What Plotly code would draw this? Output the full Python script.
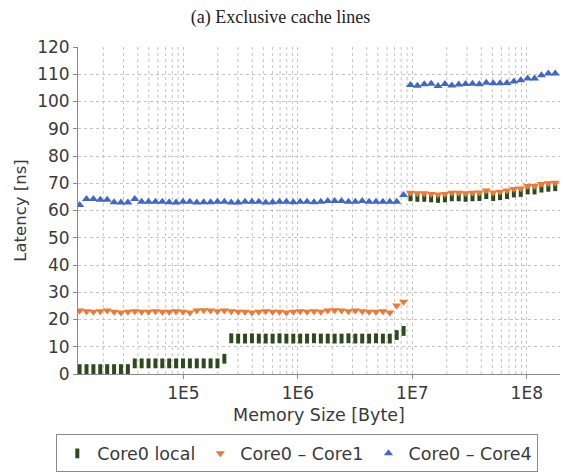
import plotly.graph_objects as go

# Memory sizes [Byte] (x positions of samples)
sizes = [
    12417, 14263, 16384, 18820, 21619, 24834, 28526, 32768, 37641, 43238,
    49667, 57052, 65536, 75281, 86475, 99334, 114105, 131072, 150562, 172951,
    198668, 228210, 262144, 301124, 345901, 397336, 456419, 524288, 602249, 691802,
    794672, 912838, 1048576, 1204497, 1383604, 1589344, 1825676, 2097152, 2408995, 2767209,
    3178688, 3651353, 4194304, 4817990, 5534417, 6357376, 7302706, 8388608, 9635980, 11068835,
    12714752, 14605411, 16777216, 19271960, 22137669, 25429504, 29210822, 33554432, 38543920, 44275339,
    50859008, 58421645, 67108864, 77087840, 88550677, 101718016, 116843289, 134217728, 154175680, 177101354,
]

core0_local = [
    1.8, 1.8, 1.8, 1.8, 1.8, 1.8, 1.8, 1.8, 3.9, 3.9,
    3.9, 3.9, 3.9, 3.9, 3.9, 3.9, 3.9, 3.9, 3.9, 3.9,
    3.9, 5.6, 13.1, 13.0, 13.0, 13.1, 13.0, 13.0, 13.0, 13.1,
    13.0, 13.0, 13.0, 13.0, 13.1, 13.0, 13.0, 13.0, 13.0, 13.1,
    13.0, 13.0, 13.0, 13.1, 13.0, 13.0, 14.3, 15.8, 65.2, 65.0,
    65.0, 64.8, 64.6, 64.8, 65.2, 65.2, 65.0, 65.2, 65.3, 66.0,
    65.3, 65.6, 66.0, 66.6, 66.8, 67.7, 67.7, 68.4, 68.7, 68.9,
]

core0_core1 = [
    23.3, 23.0, 22.8, 23.0, 23.3, 22.8, 22.6, 22.8, 23.0, 22.8,
    22.8, 23.0, 22.8, 22.8, 23.0, 22.8, 22.6, 23.3, 23.4, 23.3,
    23.0, 23.3, 23.0, 22.8, 22.8, 22.6, 22.8, 23.0, 22.8, 22.8,
    22.6, 22.8, 23.0, 22.8, 23.0, 22.8, 23.3, 23.4, 23.3, 23.0,
    23.3, 23.0, 22.8, 22.8, 23.0, 22.6, 25.1, 26.5, 66.5, 66.3,
    66.3, 66.1, 65.9, 66.1, 66.5, 66.5, 66.3, 66.5, 66.6, 67.3,
    66.6, 66.9, 67.3, 67.9, 68.1, 69.0, 69.0, 69.7, 70.0, 70.2,
]

core0_core4 = [
    62.0, 64.2, 64.2, 63.9, 63.9, 63.0, 62.9, 62.9, 64.2, 63.2,
    63.2, 63.2, 63.2, 63.0, 62.9, 63.2, 63.2, 62.9, 63.0, 63.0,
    63.2, 63.2, 62.9, 62.9, 63.2, 63.2, 63.2, 62.9, 63.0, 63.2,
    63.2, 63.0, 63.2, 63.2, 63.0, 63.2, 63.5, 63.5, 63.5, 63.2,
    63.2, 63.5, 63.2, 63.2, 63.2, 63.2, 63.2, 65.7, 106.1, 105.8,
    106.3, 106.5, 105.7, 106.4, 105.9, 106.2, 106.4, 106.5, 106.3, 106.9,
    106.7, 106.7, 106.8, 107.3, 107.8, 108.4, 108.4, 109.6, 110.3, 110.3,
]

x_tickvals = [1e5, 1e6, 1e7, 1e8]
x_ticktext = ["1E5", "1E6", "1E7", "1E8"]
y_tickvals = [0, 10, 20, 30, 40, 50, 60, 70, 80, 90, 100, 110, 120]

GREEN = "#2d4a1c"
ORANGE = "#ea7a35"
BLUE = "#4267c4"
GRID = "#c4c4c4"
AXIS = "#8a8a8a"
TXT = "#3a3a3a"
FONT = "DejaVu Sans"

# minor log gridlines (2..9 x 10^d) drawn as a background line trace
minor_vals = [k * 10 ** d for d in range(4, 9) for k in range(2, 10)]
gx, gy = [], []
for v in minor_vals:
    gx += [v, v, None]
    gy += [0, 120, None]

fig = go.Figure()
fig.add_trace(go.Scatter(
    x=gx, y=gy, mode="lines", showlegend=False, hoverinfo="skip",
    line=dict(color=GRID, width=1, dash="dot"),
))
fig.add_trace(go.Scatter(
    x=sizes, y=core0_local, mode="markers", name="Core0 local",
    marker=dict(symbol="line-ns", size=7, color=GREEN,
                line=dict(color=GREEN, width=4)),
))
fig.add_trace(go.Scatter(
    x=sizes, y=core0_core1, mode="markers", name="Core0 \u2013 Core1",
    marker=dict(symbol="triangle-down", size=8, color=ORANGE, line=dict(width=0)),
))
fig.add_trace(go.Scatter(
    x=sizes, y=core0_core4, mode="markers", name="Core0 \u2013 Core4",
    marker=dict(symbol="triangle-up", size=8, color=BLUE, line=dict(width=0)),
))

fig.update_layout(
    width=561, height=472,
    margin=dict(l=78, r=1, t=47, b=98, autoexpand=False),
    paper_bgcolor="white", plot_bgcolor="white",
    font=dict(family=FONT, color=TXT),
    title=dict(text="(a) Exclusive cache lines", x=0.5, xref="container", xanchor="center",
               y=1 - 17 / 472, yref="container", yanchor="middle",
               font=dict(family="Liberation Serif", size=18, color="#222222")),
    xaxis=dict(
        type="log", range=[4.08, 8.29], automargin=False,
        tickmode="array", tickvals=x_tickvals, ticktext=x_ticktext,
        tickfont=dict(size=17, color=TXT),
        showgrid=True, gridcolor=GRID, griddash="dot", gridwidth=1,
        ticks="outside", ticklen=4, tickcolor=AXIS,
        showline=True, linecolor=AXIS, linewidth=1,
        zeroline=False,
        title=dict(text="Memory Size [Byte]", font=dict(size=17.5, color=TXT), standoff=6),
    ),
    yaxis=dict(
        range=[0, 120], tickmode="array", tickvals=y_tickvals, automargin=False,
        tickfont=dict(size=17, color=TXT),
        showgrid=True, gridcolor=GRID, griddash="dot", gridwidth=1,
        ticks="outside", ticklen=4, tickcolor=AXIS,
        showline=True, linecolor=AXIS, linewidth=1,
        zeroline=False,
        title=dict(text="Latency [ns]", font=dict(size=16.5, color=TXT), standoff=6),
    ),
    legend=dict(
        orientation="h", x=0.455, xanchor="center",
        y=-0.185, yanchor="top",
        bordercolor=AXIS, borderwidth=1,
        font=dict(size=17.5, color=TXT),
    ),
    showlegend=True,
)

fig.write_html("out.html")
